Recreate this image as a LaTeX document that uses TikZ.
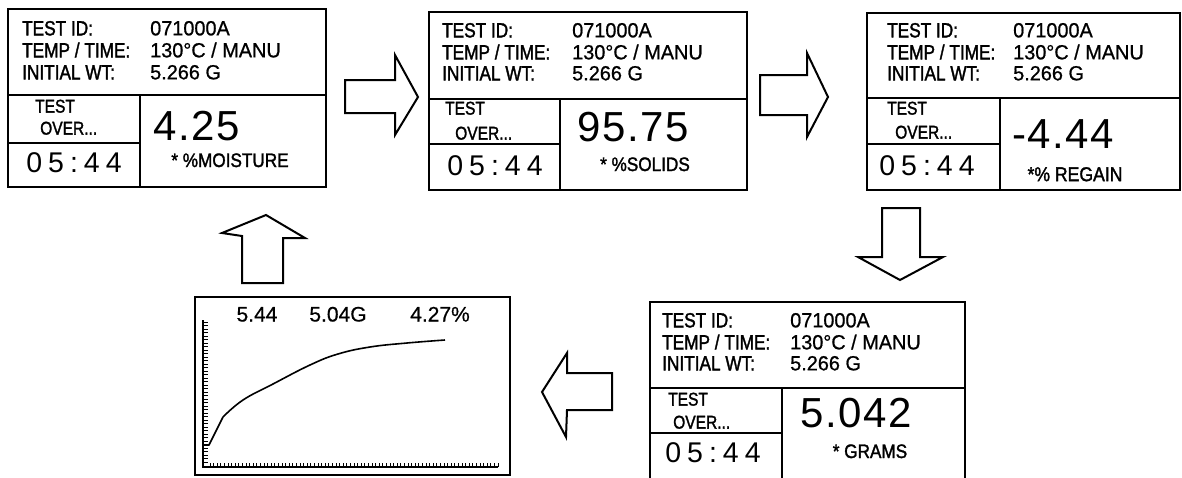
\documentclass[tikz,border=0pt]{standalone}
\usepackage{fontspec}
\setmainfont{Liberation Sans}
\newfontfamily\labfont[FakeStretch=0.84,FakeBold=1.6]{Liberation Sans}
\newfontfamily\valfont[FakeStretch=0.97,FakeBold=0.8]{Liberation Sans}
\newfontfamily\unitfont[FakeStretch=0.88,FakeBold=1.6]{Liberation Sans}
\newfontfamily\chlfont[FakeBold=0.6]{Liberation Sans}
\newcommand{\timetxt}{0\kern6pt5\kern6pt:\kern6pt4\kern6pt4}
\newcommand{\bk}{\kern1.5pt}
\begin{document}
\begin{tikzpicture}[x=1pt,y=-1pt,
  frame/.style={line width=2.8pt},
  divl/.style={line width=2.3pt},
  blk/.style={line width=2pt, line join=miter},
  lab/.style={anchor=west, inner sep=0pt, font=\labfont\fontsize{20.5}{20.5}\selectfont, text height=14.7pt, text depth=0pt},
  val/.style={anchor=west, inner sep=0pt, font=\valfont\fontsize{20.5}{20.5}\selectfont, text height=14.7pt, text depth=0pt},
  tst/.style={anchor=west, inner sep=0pt, font=\labfont\fontsize{18.5}{18.5}\selectfont, text height=13.2pt, text depth=0pt},
  big/.style={inner sep=0pt, font=\fontsize{42}{42}\selectfont, text height=30pt, text depth=0pt},
  tim/.style={inner sep=0pt, font=\fontsize{28.5}{28.5}\selectfont, text height=20.4pt, text depth=0pt},
  unit/.style={inner sep=0pt, font=\unitfont\fontsize{19.5}{19.5}\selectfont, text height=14pt, text depth=0pt},
  chl/.style={inner sep=0pt, font=\chlfont\fontsize{21}{21}\selectfont, text height=15pt, text depth=0pt}
]
\useasboundingbox (0,0) rectangle (1182,477);

% ---------- Screen 1 ----------
\draw[frame] (8,9) rectangle (326,187);
\draw[divl] (8,95) -- (326,95);
\draw[divl] (140,95) -- (140,187);
\draw[divl] (8,143) -- (140,143);
\node[lab] (s1a) at (22,28) {TEST ID:};
\node[lab] (s1b) at (22,50) {TEMP / TIME:};
\node[lab] (s1c) at (22,72) {INITIAL WT:};
\node[val] (s1d) at (150,28) {071000A};
\node[val] (s1e) at (150,50) {130°C / MANU};
\node[val] (s1f) at (150,72) {5.266 G};
\node[tst] (s1g) at (35,106) {TEST};
\node[tst] (s1h) at (40,128) {OVER...};
\node[tim] (s1i) at (74,162) {\timetxt};
\node[big] (s1j) at (197,125) {4\bk.\bk2\bk5};
\node[unit] (s1k) at (230,160) {* \%MOISTURE};

% ---------- Screen 2 ----------
\draw[frame] (429,12) rectangle (747,190);
\draw[divl] (429,99) -- (747,99);
\draw[divl] (560,99) -- (560,190);
\draw[divl] (429,144) -- (560,144);
\node[lab] (s2a) at (442,30) {TEST ID:};
\node[lab] (s2b) at (442,52) {TEMP / TIME:};
\node[lab] (s2c) at (442,73) {INITIAL WT:};
\node[val] (s2d) at (572,30) {071000A};
\node[val] (s2e) at (572,52) {130°C / MANU};
\node[val] (s2f) at (572,73) {5.266 G};
\node[tst] (s2g) at (445,108) {TEST};
\node[tst] (s2h) at (455,133) {OVER...};
\node[tim] (s2i) at (495,165) {\timetxt};
\node[big] (s2j) at (633,126) {9\bk5\bk.\bk7\bk5};
\node[unit] (s2k) at (645,164) {* \%SOLIDS};

% ---------- Screen 3 ----------
\draw[frame] (867,13) rectangle (1180,190);
\draw[divl] (867,98) -- (1180,98);
\draw[divl] (1000,98) -- (1000,190);
\draw[divl] (867,144) -- (1000,144);
\node[lab] (s3a) at (887,30) {TEST ID:};
\node[lab] (s3b) at (887,52) {TEMP / TIME:};
\node[lab] (s3c) at (887,73) {INITIAL WT:};
\node[val] (s3d) at (1013,30) {071000A};
\node[val] (s3e) at (1013,52) {130°C / MANU};
\node[val] (s3f) at (1013,73) {5.266 G};
\node[tst] (s3g) at (887,108) {TEST};
\node[tst] (s3h) at (895,132) {OVER...};
\node[tim] (s3i) at (927,165) {\timetxt};
\node[big] (s3j) at (1063,133) {-\bk4\bk.\bk4\bk4};
\node[unit, font=\unitfont\fontsize{20}{20}\selectfont, text height=14.3pt] (s3k) at (1075,174) {*\% REGAIN};

% ---------- Screen 4 ----------
\draw[frame] (650,478) -- (650,302) -- (965,302) -- (965,478);
\draw[divl] (650,388) -- (965,388);
\draw[divl] (782,388) -- (782,478);
\draw[divl] (650,433) -- (782,433);
\node[lab] (s4a) at (662,320) {TEST ID:};
\node[lab] (s4b) at (662,342) {TEMP / TIME:};
\node[lab] (s4c) at (662,363) {INITIAL WT:};
\node[val] (s4d) at (790,320) {071000A};
\node[val] (s4e) at (790,342) {130°C / MANU};
\node[val] (s4f) at (790,363) {5.266 G};
\node[tst] (s4g) at (668,399) {TEST};
\node[tst] (s4h) at (673,422) {OVER...};
\node[tim] (s4i) at (713,452) {\timetxt};
\node[big] (s4j) at (856,412) {5\bk.\bk0\bk4\bk2};
\node[unit] (s4k) at (870,451) {* GRAMS};

% ---------- Chart screen ----------
\draw[frame] (195,297) rectangle (510,475);
\draw[line width=1.5pt] (203,320) -- (203,467) -- (498,467);
\foreach \i in {0,...,40} \draw[line width=1pt] (203,322+\i*3.5) -- ++(4.5,0);
\foreach \i in {0,...,80} \draw[line width=1pt] (210+\i*3.6,467) -- ++(0,-4);
\draw[line width=1.6pt, line join=round] (203,445) -- (209,445) -- (223,417);
\draw[line width=1.6pt] plot[smooth, tension=0.7] coordinates {(223,417) (243,400) (273,384) (310,365) (338,354) (370,347) (407,343) (445,340)};
\node[chl] (c1) at (257,314) {5.44};
\node[chl] (c2) at (338,314) {5.04G};
\node[chl] (c3) at (440,314) {4.27\%};

% ---------- Block arrows ----------
\draw[blk] (345,80) -- (395,80) -- (395,55) -- (418,97) -- (395,135) -- (395,113) -- (345,113) -- cycle;
\draw[blk] (760,75) -- (807,75) -- (807,53) -- (828,97) -- (807,137) -- (807,115) -- (760,115) -- cycle;
\draw[blk] (882,208) -- (920,208) -- (920,257) -- (943,257) -- (900,280) -- (858,257) -- (882,257) -- cycle;
\draw[blk] (612,373) -- (612,410) -- (567,410) -- (566,437) -- (542,392) -- (567,353) -- (567,373) -- cycle;
\draw[blk] (242,283) -- (242,236) -- (222,233) -- (266,215) -- (305,238) -- (283,238) -- (283,283) -- cycle;
\end{tikzpicture}
\end{document}
